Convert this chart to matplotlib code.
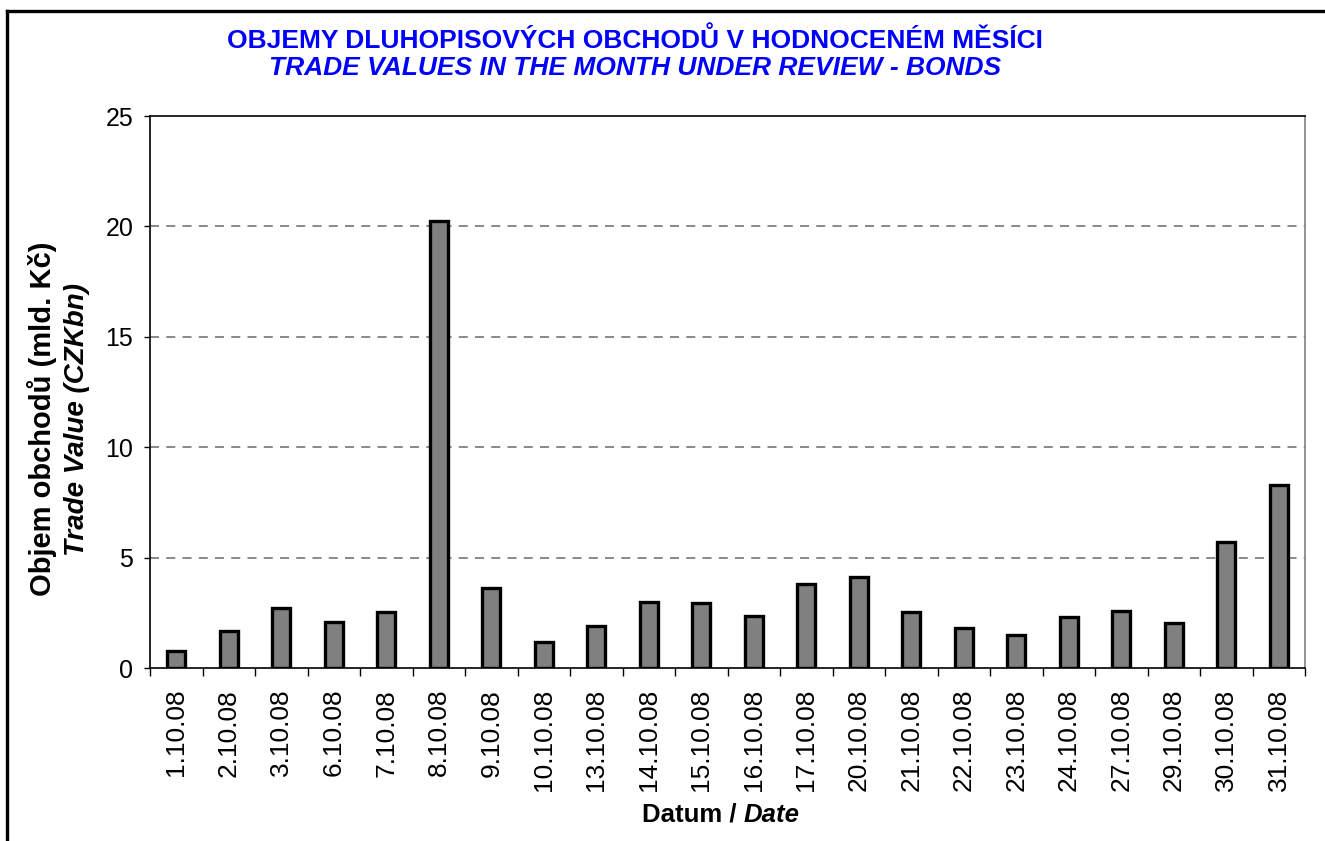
import matplotlib
matplotlib.use("Agg")
import matplotlib.pyplot as plt
from matplotlib.lines import Line2D

plt.rcParams['font.family'] = ['Liberation Sans', 'DejaVu Sans']

dates = ["1.10.08", "2.10.08", "3.10.08", "6.10.08", "7.10.08", "8.10.08", "9.10.08",
         "10.10.08", "13.10.08", "14.10.08", "15.10.08", "16.10.08", "17.10.08",
         "20.10.08", "21.10.08", "22.10.08", "23.10.08", "24.10.08", "27.10.08",
         "29.10.08", "30.10.08", "31.10.08"]
values = [0.75, 1.68, 2.70, 2.08, 2.52, 20.23, 3.61, 1.20, 1.90, 2.97, 2.93,
          2.37, 3.82, 4.13, 2.52, 1.81, 1.51, 2.29, 2.60, 2.05, 5.71, 8.27]
yticks = [0, 5, 10, 15, 20, 25]

W, H = 1325, 841
fig = plt.figure(figsize=(W / 100, H / 100), dpi=100)
ax = fig.add_axes([150 / W, 1 - 668 / H, (1305 - 150) / W, (668 - 116) / H])

n = len(dates)
x = list(range(n))
ax.bar(x, values, width=0.35, color='#808080', edgecolor='black', linewidth=2.4, zorder=3)

ax.set_xlim(-0.5, n - 0.5)
ax.set_ylim(0, 25)
ax.set_yticks(yticks)
ax.set_yticklabels([str(v) for v in yticks], fontsize=18)
ax.set_xticks(x)
ax.set_xticklabels(dates, rotation=90, fontsize=19)
ax.tick_params(axis='x', which='major', length=0, pad=15)
ax.set_xticks([i - 0.5 for i in range(n + 1)], minor=True)
ax.tick_params(axis='x', which='minor', length=6, width=1, direction='out', color='black')
ax.tick_params(axis='y', length=4, width=1, direction='out', pad=8)

for v in yticks[1:-1]:
    ax.axhline(v, color='#808080', linestyle=(0, (5, 4)), linewidth=1.3, zorder=1)

for s in ['top', 'left', 'bottom']:
    ax.spines[s].set_color('black')
    ax.spines[s].set_linewidth(1.2)
ax.spines['right'].set_color('#808080')
ax.spines['right'].set_linewidth(1.2)

blue = '#0000FF'
fig.text(635 / W, 1 - 40 / H, "OBJEMY DLUHOPISOVÝCH OBCHODŮ V HODNOCENÉM MĚSÍCI",
         ha='center', va='center', fontsize=19, fontweight='bold', color=blue)
fig.text(635 / W, 1 - 68 / H, "TRADE VALUES IN THE MONTH UNDER REVIEW - BONDS",
         ha='center', va='center', fontsize=19, fontweight='bold', style='italic', color=blue)

fig.text(42 / W, 1 - 419 / H, "Objem obchodů (mld. Kč)", rotation=90,
         ha='center', va='center', fontsize=21, fontweight='bold')
fig.text(77 / W, 1 - 420 / H, "Trade Value (CZKbn)", rotation=90,
         ha='center', va='center', fontsize=20, fontweight='bold', style='italic')

# x label with mixed style
renderer = fig.canvas.get_renderer()
t1 = fig.text(0, 1 - 815 / H, "Datum / ", ha='left', va='center', fontsize=18.5, fontweight='bold')
t2 = fig.text(0, 1 - 815 / H, "Date", ha='left', va='center', fontsize=18.5, fontweight='bold', style='italic')
w1 = t1.get_window_extent(renderer).width
w2 = t2.get_window_extent(renderer).width
cx = 721
x0 = cx - (w1 + w2) / 2
t1.set_x(x0 / W)
t2.set_x((x0 + w1) / W)

# outer frame (left and top)
fig.add_artist(Line2D([7.5 / W, 7.5 / W], [0, 1 - 10.5 / H], transform=fig.transFigure,
                      color='black', linewidth=2.4, solid_capstyle='projecting'))
fig.add_artist(Line2D([7.5 / W, 1], [1 - 10.5 / H, 1 - 10.5 / H], transform=fig.transFigure,
                      color='black', linewidth=2.4, solid_capstyle='projecting'))

fig.savefig("out.png", dpi=100)
